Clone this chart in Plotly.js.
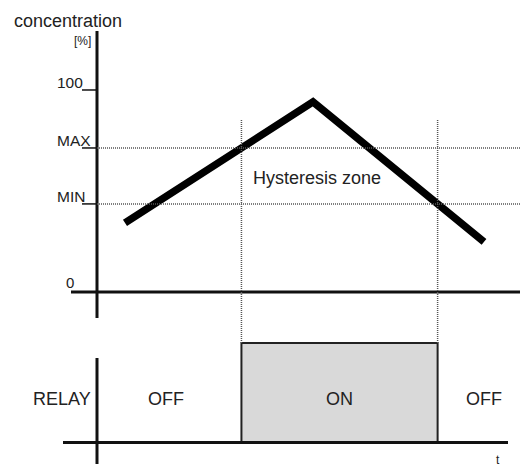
<!DOCTYPE html>
<html>
<head>
<meta charset="utf-8">
<script src="https://cdn.plot.ly/plotly-3.0.1.min.js"></script>
<style>html,body{margin:0;padding:0;background:#fff;}#chart{width:520px;height:468px;}</style>
</head>
<body>
<div id="chart"></div>
<script>
// ---- data ----
var timePoints = [2.8, 21.6, 38.7];          // time of start, peak, end
var concentration = [34.2, 94.1, 24.8];       // concentration [%]
var levelNames = ['0', 'MIN', 'MAX', '100'];
var levelValues = [0, 43.6, 71.3, 100];
var relayLabels = ['OFF', 'ON', 'OFF'];

var MINv = levelValues[1], MAXv = levelValues[2];

// switching times: rising crosses MAX -> ON, falling crosses MIN -> OFF
function cross(t0, c0, t1, c1, level) { return t0 + (level - c0) / (c1 - c0) * (t1 - t0); }
var tOn = cross(timePoints[0], concentration[0], timePoints[1], concentration[1], MAXv);
var tOff = cross(timePoints[1], concentration[1], timePoints[2], concentration[2], MINv);
var relayX = [tOn, tOn, tOff, tOff];
var relayY = [0, 1, 1, 0];

// ---- geometry (pixel <-> axis) ----
var W = 520, H = 468;
var xr = [-9.7, 42.3];
var yr = [-87.13, 144.55];
var y2r = [-0.256, 4.447];
function xp(px) { return xr[0] + px / W * (xr[1] - xr[0]); }
function yp(py) { return yr[1] - py / H * (yr[1] - yr[0]); }
function y2p(py) { return y2r[1] - py / H * (y2r[1] - y2r[0]); }

var ink = '#111';
var txt = '#222';
var font = 'Liberation Sans, Arial, sans-serif';

var traces = [
  { x: relayX, y: relayY, yaxis: 'y2', mode: 'lines', fill: 'toself', fillcolor: '#d9d9d9',
    line: { color: '#222', width: 2 }, hoverinfo: 'skip', showlegend: false },
  { x: timePoints, y: concentration, mode: 'lines', line: { color: '#000', width: 7.5 },
    hoverinfo: 'skip', showlegend: false }
];

var shapes = [];
// top axes
shapes.push({ type: 'line', xref: 'x', yref: 'y', x0: 0, x1: 0, y0: yp(31), y1: yp(318), line: { color: ink, width: 3 } });
shapes.push({ type: 'line', xref: 'x', yref: 'y', x0: xp(71), x1: xr[1], y0: 0, y1: 0, line: { color: ink, width: 3 } });
// level ticks and dotted lines
for (var i = 1; i < levelValues.length; i++) {
  shapes.push({ type: 'line', xref: 'x', yref: 'y', x0: xp(82), x1: 0, y0: levelValues[i], y1: levelValues[i], line: { color: ink, width: 1.5 } });
  if (levelNames[i] === 'MIN' || levelNames[i] === 'MAX') {
    shapes.push({ type: 'line', xref: 'x', yref: 'y', x0: 0, x1: xr[1], y0: levelValues[i], y1: levelValues[i], line: { color: '#555', width: 1.5, dash: '1px,1px' } });
  }
}
// vertical dotted switching lines
[tOn, tOff].forEach(function (t) {
  shapes.push({ type: 'line', xref: 'x', yref: 'y2', x0: t, x1: t, y0: 1, y1: y2p(119), line: { color: '#555', width: 1.5, dash: '1px,1px' } });
});
// relay axes
shapes.push({ type: 'line', xref: 'x', yref: 'y2', x0: xp(63), x1: xp(508), y0: 0, y1: 0, line: { color: ink, width: 3 } });
shapes.push({ type: 'line', xref: 'x', yref: 'y2', x0: 0, x1: 0, y0: y2p(358), y1: y2p(464), line: { color: ink, width: 3 } });

var annotations = [];
function ann(o) {
  var a = { showarrow: false, font: { family: font, size: o.size || 18, color: txt } };
  for (var k in o) if (k !== 'size') a[k] = o[k];
  annotations.push(a);
}
ann({ text: 'concentration', xref: 'paper', yref: 'paper', x: 12 / W, y: 1 - 21 / H, xanchor: 'left', yanchor: 'middle', size: 18 });
ann({ text: '[%]', xref: 'paper', yref: 'paper', x: 93 / W, y: 1 - 41 / H, xanchor: 'right', yanchor: 'middle', size: 12 });
for (var j = 0; j < levelNames.length; j++) {
  if (levelNames[j] === '0') {
    ann({ text: levelNames[j], xref: 'x', yref: 'y', x: xp(70), y: levelValues[j], xanchor: 'center', yanchor: 'middle', yshift: 9, size: 15 });
  } else {
    ann({ text: levelNames[j], xref: 'x', yref: 'y', x: xp(55), y: levelValues[j], xanchor: 'left', yanchor: 'middle', yshift: 7, size: 15.5 });
  }
}
ann({ text: 'Hysteresis zone', xref: 'x', yref: 'y', x: xp(251), y: (MINv + MAXv) / 2 + 1, xanchor: 'left', yanchor: 'middle', yshift: -4, size: 18 });
ann({ text: 'RELAY', xref: 'paper', yref: 'y2', x: 31 / W, y: 0.44, xanchor: 'left', yanchor: 'middle', size: 18 });
var relayCenters = [tOn / 2 - 0.3, (tOn + tOff) / 2, (tOff + xp(508)) / 2 + 1.1];
for (var r = 0; r < relayLabels.length; r++) {
  ann({ text: relayLabels[r], xref: 'x', yref: 'y2', x: relayCenters[r], y: 0.44, xanchor: 'center', yanchor: 'middle', size: 18 });
}
ann({ text: 't', xref: 'paper', yref: 'paper', x: 498 / W, y: 0, xanchor: 'center', yanchor: 'bottom', yshift: -1, size: 12 });

var layout = {
  width: W, height: H,
  margin: { l: 0, r: 0, t: 0, b: 0, pad: 0 },
  paper_bgcolor: '#fff', plot_bgcolor: '#fff',
  xaxis: { range: xr, visible: false, fixedrange: true },
  yaxis: { range: yr, visible: false, fixedrange: true },
  yaxis2: { range: y2r, visible: false, overlaying: 'y', fixedrange: true },
  shapes: shapes,
  annotations: annotations,
  showlegend: false
};

Plotly.newPlot('chart', traces, layout, { displayModeBar: false, staticPlot: true });
</script>
</body>
</html>
